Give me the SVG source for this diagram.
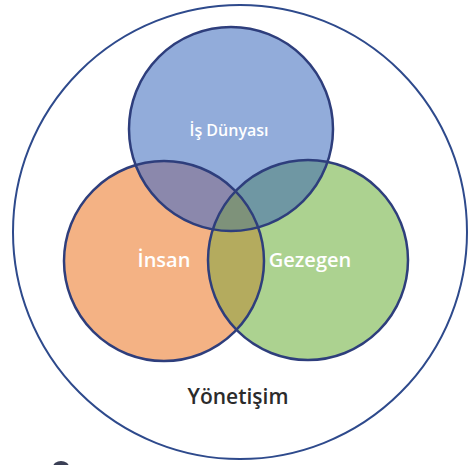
<svg xmlns="http://www.w3.org/2000/svg" width="468" height="465" viewBox="0 0 468 465">
<style>
.ring{fill:none;stroke:#2e3e7c;stroke-width:2.5}
.lbl{font-family:"Open Sans","Noto Sans",sans-serif;font-weight:600;fill:#ffffff;text-anchor:middle}
.gov{font-family:"Open Sans","Noto Sans",sans-serif;font-weight:600;fill:#2b2b2b;text-anchor:middle}
</style>
<defs>
<clipPath id="cB"><circle cx="231" cy="129" r="102"/></clipPath>
<clipPath id="cO"><circle cx="164" cy="261" r="100"/></clipPath>
<clipPath id="cG"><circle cx="308" cy="260" r="100"/></clipPath>
</defs>
<rect width="468" height="465" fill="#ffffff"/>
<g id="yonetisim">
<circle cx="240" cy="232" r="227" fill="none" stroke="#2e4a8c" stroke-width="2"/>
<text class="gov" x="238" y="404" font-size="21">Yönetişim</text>
</g>
<g id="is-dunyasi">
<circle cx="231" cy="129" r="102" fill="#92acda"/>
</g>
<g id="insan">
<circle cx="164" cy="261" r="100" fill="#f4b284"/>
</g>
<g id="gezegen">
<circle cx="308" cy="260" r="100" fill="#acd290"/>
</g>
<g id="overlaps">
<g clip-path="url(#cB)"><circle cx="164" cy="261" r="100" fill="#8b88ac"/><circle cx="308" cy="260" r="100" fill="#6f97a3"/></g>
<g clip-path="url(#cO)"><circle cx="308" cy="260" r="100" fill="#b4ab5e"/></g>
<g clip-path="url(#cB)"><g clip-path="url(#cO)"><circle cx="308" cy="260" r="100" fill="#7e927a"/></g></g>
</g>
<g id="outlines">
<circle class="ring" cx="231" cy="129" r="102"/>
<circle class="ring" cx="164" cy="261" r="100"/>
<circle class="ring" cx="308" cy="260" r="100"/>
</g>
<g id="labels">
<text class="lbl" x="229" y="136" font-size="16">İş Dünyası</text>
<text class="lbl" x="164" y="267" font-size="20">İnsan</text>
<text class="lbl" x="310" y="267" font-size="20">Gezegen</text>
</g>
<ellipse cx="61" cy="467" rx="8" ry="6" fill="#3a3f55"/>
</svg>
